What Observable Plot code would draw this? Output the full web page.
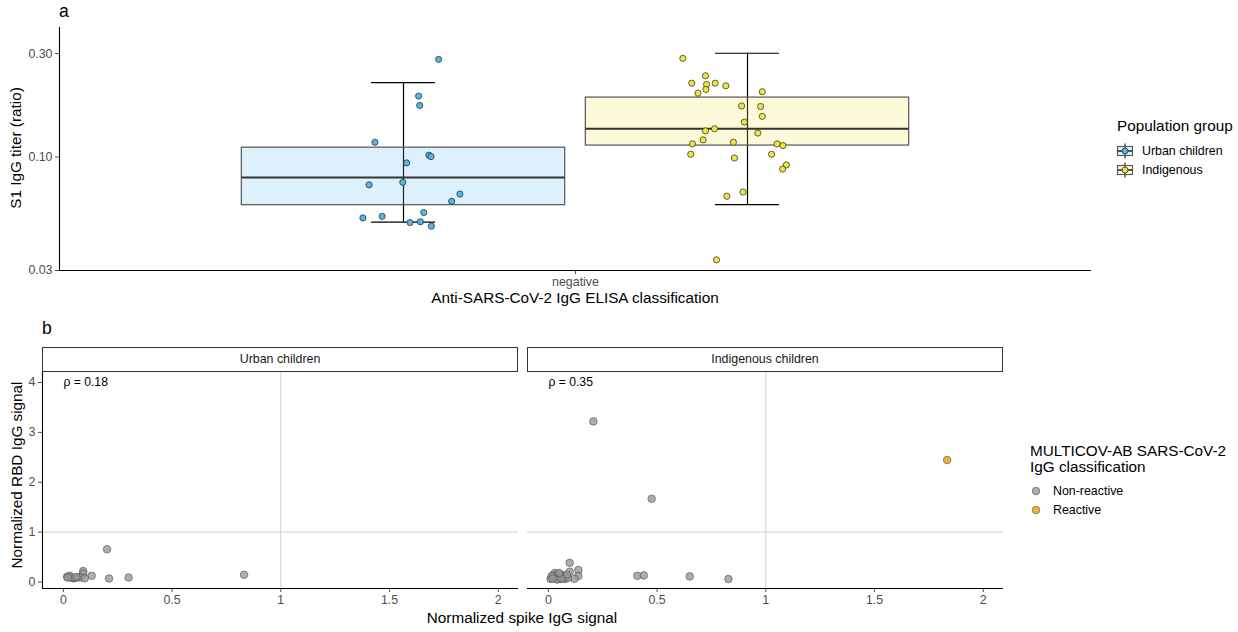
<!DOCTYPE html>
<html><head><meta charset="utf-8">
<script src="https://cdn.jsdelivr.net/npm/d3@7"></script>
<script src="https://cdn.jsdelivr.net/npm/@observablehq/plot@0.6"></script>
<style>
body{margin:0;background:#fff;font-family:"Liberation Sans",Arial,sans-serif;}
#root{position:relative;width:1238px;height:632px;overflow:hidden;background:#fff;}
.abs{position:absolute;white-space:nowrap;line-height:1;}
.title{font-size:15.3px;color:#000;}
.tag{font-size:17.6px;color:#000;}
.leg{font-size:12.4px;color:#000;}
.strip{position:absolute;box-sizing:border-box;border:1.4px solid #333;background:#fff;font-size:12.4px;color:#1a1a1a;display:flex;align-items:center;justify-content:center;}
svg{overflow:visible;}
</style></head>
<body><div id="root"></div>
<script>
// ---------- Panel a data ----------
const category = "negative";
const groups = ["Urban children", "Indigenous"];
const groupColors = ["#56B4E9", "#F0E442"];
const boxQ1 = [0.0600, 0.113];
const boxMedian = [0.0806, 0.135];
const boxQ3 = [0.1105, 0.188];
const whiskerLow = [0.0501, 0.0603];
const whiskerHigh = [0.2204, 0.301];
const yTicksA = [0.03, 0.10, 0.30];

const urbanTiter = [0.282, 0.191, 0.173, 0.117, 0.102, 0.1005, 0.094, 0.0745, 0.0765, 0.0675, 0.0625, 0.0555, 0.0533, 0.0524, 0.0499, 0.0503, 0.0480];
const urbanJitter = [0.102, 0.044, 0.047, -0.083, 0.074, 0.080, 0.009, -0.100, -0.002, 0.164, 0.140, 0.059, -0.062, -0.118, 0.019, 0.049, 0.081];
const indigTiter = [0.285, 0.237, 0.219, 0.216, 0.219, 0.213, 0.205, 0.197, 0.200, 0.172, 0.171, 0.154, 0.145, 0.135, 0.132, 0.129, 0.120, 0.117, 0.115, 0.115, 0.113, 0.103, 0.103, 0.099, 0.092, 0.088, 0.069, 0.066, 0.0336];
const indigJitter = [-0.188, -0.122, -0.162, -0.119, -0.094, -0.063, -0.121, -0.144, 0.043, -0.017, 0.038, 0.043, -0.009, -0.096, -0.122, 0.030, -0.129, -0.041, -0.160, 0.086, 0.103, 0.070, -0.165, -0.038, 0.113, 0.102, -0.013, -0.060, -0.090];

// ---------- Panel b data ----------
const facets = ["Urban children", "Indigenous children"];
const rhoLabels = ["\u03c1 = 0.18", "\u03c1 = 0.35"];
const classes = ["Non-reactive", "Reactive"];
const classColors = ["#999999", "#E69F00"];
const xTicksB = [0, 0.5, 1, 1.5, 2];
const yTicksB = [0, 1, 2, 3, 4];
const thresholdSpike = 1, thresholdRBD = 1;
const annotX = 0, annotY = 4;

const urbanSpike = [0.201, 0.091, 0.091, 0.130, 0.210, 0.300, 0.831, 0.017, 0.029, 0.045, 0.066, 0.081, 0.098, 0.052, 0.035, 0.020, 0.060];
const urbanRBD   = [0.656, 0.219, 0.170, 0.125, 0.070, 0.090, 0.145, 0.105, 0.125, 0.074, 0.093, 0.093, 0.074, 0.080, 0.090, 0.090, 0.100];
const urbanClass = Array(17).fill("Non-reactive");

const indigSpike = [0.207, 0.475, 1.834, 0.098, 0.098, 0.138, 0.138, 0.120, 0.409, 0.439, 0.650, 0.828,
  0.010, 0.020, 0.025, 0.030, 0.035, 0.040, 0.045, 0.050, 0.055, 0.060, 0.065, 0.070, 0.075, 0.080, 0.090, 0.015, 0.040, 0.085, 0.020, 0.060, 0.050];
const indigRBD = [3.22, 1.67, 2.445, 0.384, 0.205, 0.240, 0.120, 0.066, 0.125, 0.133, 0.113, 0.060,
  0.060, 0.100, 0.150, 0.180, 0.120, 0.080, 0.160, 0.100, 0.060, 0.140, 0.090, 0.120, 0.060, 0.100, 0.080, 0.120, 0.050, 0.150, 0.070, 0.070, 0.180];
const indigClass = indigSpike.map((_, i) => i === 2 ? "Reactive" : "Non-reactive");

// ---------- helpers ----------
const root = document.getElementById("root");
const FONT = "Liberation Sans, Arial, sans-serif";
function place(el, left, top) { el.style.position = "absolute"; el.style.left = left + "px"; el.style.top = top + "px"; root.appendChild(el); return el; }
function label(text, x, y, cls, anchor = "middle", rotate = false) {
  const d = document.createElement("div");
  d.className = "abs " + cls;
  d.textContent = text;
  const tx = anchor === "middle" ? "-50%" : "0";
  d.style.transform = rotate ? "translate(-50%,-50%) rotate(-90deg)" : `translate(${tx},-50%)`;
  return place(d, x, y);
}

// ---------- Panel a ----------
const boxes = groups.map((g, i) => ({group: g, pos: i - 0.5, q1: boxQ1[i], med: boxMedian[i], q3: boxQ3[i], lo: whiskerLow[i], hi: whiskerHigh[i]}));
const half = 0.47, cap = 0.093;
const ptsA = [
  urbanTiter.map((v, i) => ({pos: -0.5 + urbanJitter[i], v})),
  indigTiter.map((v, i) => ({pos: 0.5 + indigJitter[i], v}))
];
const plotA = Plot.plot({
  width: 1100, height: 300, marginLeft: 59, marginRight: 9, marginTop: 27, marginBottom: 30,
  style: {fontFamily: FONT, fontSize: "12.4px", color: "#4d4d4d", background: "transparent", overflow: "visible"},
  x: {type: "linear", domain: [-1.5, 1.5], ticks: [0], tickFormat: () => category, tickSize: 4, tickPadding: 3, label: null},
  y: {type: "log", domain: [0.03, 0.3955], ticks: yTicksA, tickFormat: d3.format(".2f"), tickSize: 4, tickPadding: 3, label: null},
  marks: [
    Plot.ruleX(boxes, {x: "pos", y1: "lo", y2: "hi", stroke: "#000", strokeWidth: 1.2}),
    Plot.ruleY(boxes, {y: "lo", x1: d => d.pos - cap, x2: d => d.pos + cap, stroke: "#000", strokeWidth: 1.2}),
    Plot.ruleY(boxes, {y: "hi", x1: d => d.pos - cap, x2: d => d.pos + cap, stroke: "#000", strokeWidth: 1.2}),
    ...boxes.map((b, i) => Plot.rect([b], {x1: d => d.pos - half, x2: d => d.pos + half, y1: "q1", y2: "q3", fill: groupColors[i], fillOpacity: 0.2, stroke: "#555", strokeWidth: 1.2})),
    Plot.ruleY(boxes, {y: "med", x1: d => d.pos - half, x2: d => d.pos + half, stroke: "#333", strokeWidth: 2}),
    ...ptsA.map((pts, i) => Plot.dot(pts, {x: "pos", y: "v", r: 3.1, fill: groupColors[i], stroke: "#222", strokeWidth: 0.7})),
    Plot.ruleX([-1.5], {stroke: "#000", strokeWidth: 1.1}),
    Plot.ruleY([0.03], {stroke: "#000", strokeWidth: 1.1})
  ]
});
place(plotA, 0, 0);

label("a", 59, 12, "tag", "start");
label("S1 IgG titer (ratio)", 16, 148, "title", "middle", true);
label("Anti-SARS-CoV-2 IgG ELISA classification", 575, 298, "title");

// legend a
label("Population group", 1117, 126, "title", "start");
groups.forEach((g, i) => {
  const y = 151 + i * 19;
  const ns = "http://www.w3.org/2000/svg";
  const s = document.createElementNS(ns, "svg");
  s.setAttribute("width", 18); s.setAttribute("height", 16);
  s.innerHTML = `<line x1="9" y1="0.5" x2="9" y2="15.5" stroke="#000" stroke-width="1"/>
    <rect x="1.5" y="3.5" width="15" height="9" fill="${groupColors[i]}" fill-opacity="0.2" stroke="#555" stroke-width="1.1"/>
    <line x1="1.5" y1="8" x2="16.5" y2="8" stroke="#333" stroke-width="1.6"/>
    <circle cx="9" cy="8" r="3" fill="${groupColors[i]}" stroke="#222" stroke-width="0.7"/>`;
  place(s, 1116, y - 8);
  label(g, 1142, y, "leg", "start");
});

// ---------- Panel b ----------
function facetPlot(spike, rbd, cls, rho, withY, width, marginLeft) {
  const data = spike.map((x, i) => ({x, y: rbd[i], c: cls[i]}));
  const xDom = [-0.096, 2.093], yDom = [-0.13, 4.2];
  return Plot.plot({
    width, height: 270, marginLeft, marginRight: 0, marginTop: 10, marginBottom: 44,
    style: {fontFamily: FONT, fontSize: "12.4px", color: "#4d4d4d", background: "transparent", overflow: "visible"},
    x: {domain: xDom, ticks: xTicksB, tickFormat: d => String(d), tickSize: 4, tickPadding: 3, label: null},
    y: {domain: yDom, ticks: yTicksB, tickFormat: d => String(d), tickSize: 4, tickPadding: 3, label: null, axis: withY ? "left" : null},
    marks: [
      Plot.ruleX([thresholdSpike], {stroke: "#cfcfcf", strokeWidth: 1}),
      Plot.ruleY([thresholdRBD], {stroke: "#cfcfcf", strokeWidth: 1}),
      ...classes.map((c, i) => Plot.dot(data.filter(d => d.c === c), {x: "x", y: "y", r: 3.8, fill: classColors[i], fillOpacity: 0.8, stroke: "#4d4d4d", strokeOpacity: 0.75, strokeWidth: 0.8})),
      Plot.text([rho], {x: () => annotX, y: () => annotY, text: d => d, textAnchor: "start", fontSize: 12.2, fill: "#000"}),
      Plot.ruleY([yDom[0]], {stroke: "#000", strokeWidth: 1.1}),
      withY ? Plot.ruleX([xDom[0]], {stroke: "#000", strokeWidth: 1.1}) : null
    ]
  });
}
place(facetPlot(urbanSpike, urbanRBD, urbanClass, rhoLabels[0], true, 518, 42), 0, 362);
place(facetPlot(indigSpike, indigRBD, indigClass, rhoLabels[1], false, 476, 0), 527, 362);

// strips
[[42, facets[0]], [527, facets[1]]].forEach(([x, t]) => {
  const d = document.createElement("div");
  d.className = "strip";
  d.style.width = "476px"; d.style.height = "24.5px";
  d.textContent = t;
  place(d, x, 347);
});

label("b", 42, 329, "tag", "start");
label("Normalized RBD IgG signal", 17, 475, "title", "middle", true);
label("Normalized spike IgG signal", 522, 618, "title");

// legend b
label("MULTICOV-AB SARS-CoV-2", 1030, 451, "title", "start");
label("IgG classification", 1030, 467, "title", "start");
classes.forEach((c, i) => {
  const y = 491 + i * 19;
  const ns = "http://www.w3.org/2000/svg";
  const s = document.createElementNS(ns, "svg");
  s.setAttribute("width", 12); s.setAttribute("height", 12);
  s.innerHTML = `<circle cx="6" cy="6" r="3.8" fill="${classColors[i]}" fill-opacity="0.8" stroke="#4d4d4d" stroke-opacity="0.75" stroke-width="0.8"/>`;
  place(s, 1030, y - 6);
  label(c, 1053, y, "leg", "start");
});
</script></body></html>
